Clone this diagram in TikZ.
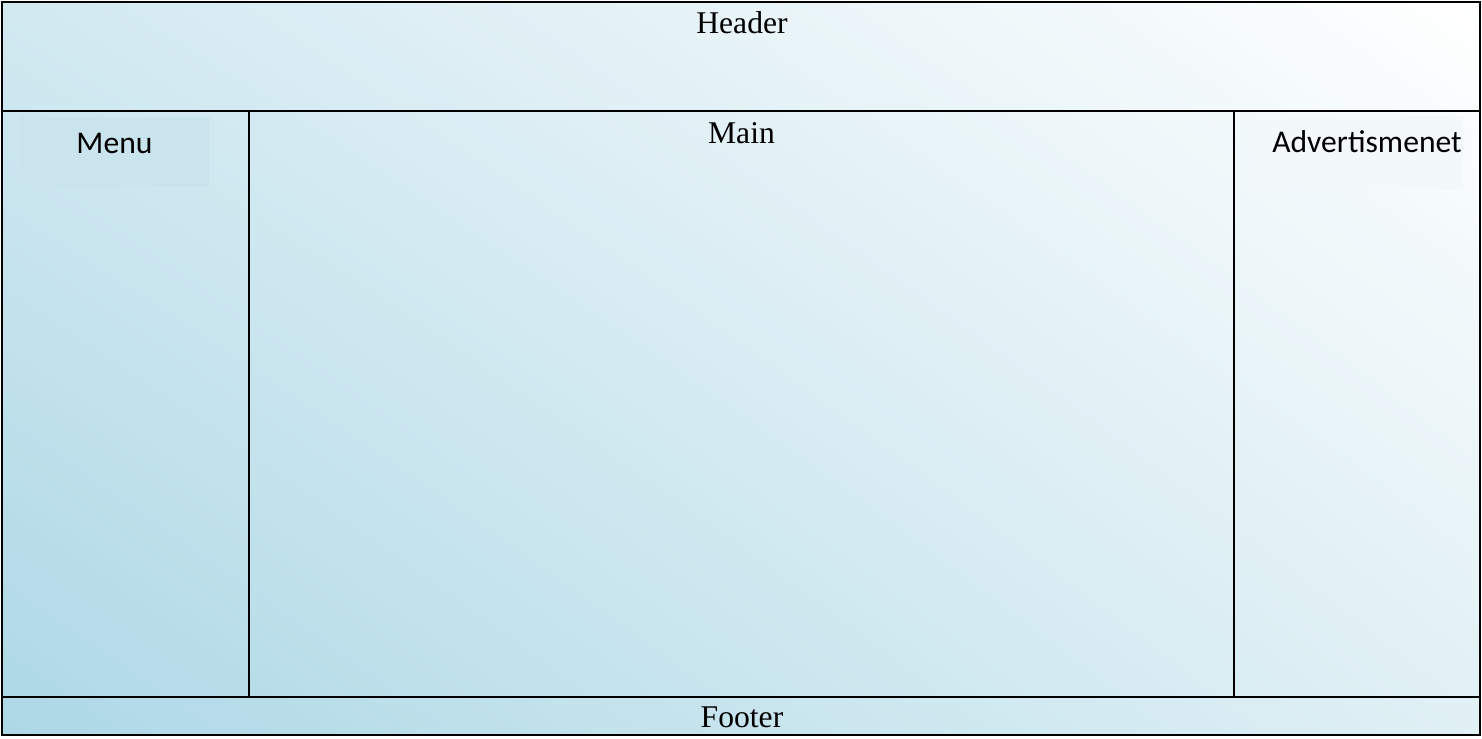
\documentclass[tikz,border=0pt]{standalone}
\usepackage{fontspec}
\setmainfont{Liberation Serif}
\newfontfamily\boxfont{Carlito}
\usetikzlibrary{shadings}
\definecolor{paleblue}{HTML}{ADD8E6}
\definecolor{midblue}{HTML}{D2E9F1}
\definecolor{lightmid}{HTML}{E0F0F5}
\definecolor{menufill}{HTML}{C9E4ED}
\definecolor{adfill}{HTML}{F3F9FB}
\tikzset{
  frame/.style={draw=black,line width=1.1pt},
  serifname/.style={text=black,anchor=base,inner sep=0pt,font=\fontsize{18}{22}\selectfont},
  sansname/.style={text=black,anchor=base,inner sep=0pt,font=\boxfont\fontsize{18}{22}\selectfont},
  tagbox/.style={inner sep=0pt,minimum width=3.78cm,minimum height=1.4cm}
}
\begin{document}
\begin{tikzpicture}[x=0.02cm,y=-0.02cm]
\useasboundingbox (0,0) rectangle (1482,738);

% background gradient:
\shade[lower left=paleblue,upper right=white,upper left=midblue,lower right=lightmid] (2,2) rectangle (1480,735);

% label boxes:
\node[tagbox,fill=menufill] (menubox) at (114.5,152) {};
\node[tagbox,fill=adfill,minimum width=4.2cm,minimum height=1.48cm] (adbox) at (1358,153) {};

% regions:
\draw[frame] (2,2) rectangle (1480,735);
\draw[frame] (2,111) -- (1480,111);
\draw[frame] (2,697) -- (1480,697);
\draw[frame] (249,111) -- (249,697);
\draw[frame] (1234,111) -- (1234,697);

% texts:
\node[serifname] (header) at (742,33) {Header};
\node[serifname] (main) at (741.5,143) {Main};
\node[serifname] (footer) at (742,727) {Footer};
\node[sansname] (menu) at (114.5,153) {Menu};
\node[sansname] (ad) at (1367,152) {Advertismenet};

\end{tikzpicture}
\end{document}
